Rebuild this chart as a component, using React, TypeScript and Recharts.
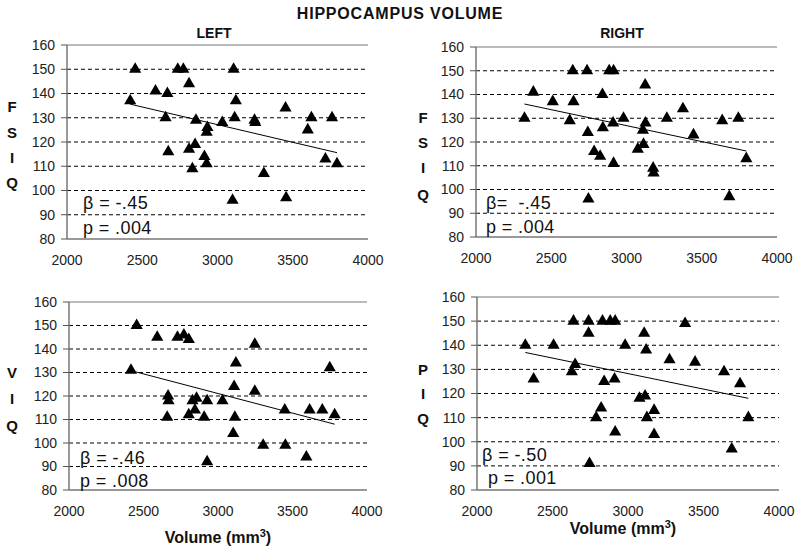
import React from "react";
import {
  ScatterChart,
  Scatter,
  XAxis,
  YAxis,
  ZAxis,
  ReferenceLine,
} from "recharts";

// volumes (mm3) and IQ scores
const leftFsiqVol = [2420, 2453, 2588, 2667, 2655, 2673, 2736, 2773, 2811, 2857, 2811, 2851, 2833, 2913, 2928, 2933, 2928, 3032, 3107, 3122, 3114, 3100, 3246, 3251, 3308, 3452, 3456, 3600, 3624, 3761, 3717, 3794];
const leftFsiq = [137, 150, 141, 140, 130, 116, 150, 150, 144, 129, 117, 119, 109, 114, 111, 126, 124, 128, 150, 137, 130, 96, 129, 128, 107, 134, 97, 125, 130, 130, 113, 111];

const rightFsiqVol = [2322, 2381, 2510, 2623, 2643, 2648, 2738, 2743, 2747, 2785, 2825, 2840, 2843, 2885, 2914, 2911, 2914, 2980, 3075, 3113, 3109, 3126, 3124, 3177, 3180, 3268, 3375, 3445, 3636, 3743, 3683, 3796];
const rightFsiq = [130, 141, 137, 129, 150, 137, 150, 124, 96, 116, 114, 140, 126, 150, 150, 128, 111, 130, 117, 119, 125, 128, 144, 109, 107, 130, 134, 123, 129, 130, 97, 113];

const leftViqVol = [2416, 2454, 2592, 2665, 2668, 2659, 2728, 2771, 2804, 2804, 2845, 2829, 2856, 2907, 2927, 2927, 3030, 3108, 3120, 3113, 3102, 3247, 3247, 3303, 3448, 3452, 3593, 3615, 3700, 3750, 3783];
const leftViq = [131, 150, 145, 120, 118, 111, 145, 146, 144, 112, 114, 118, 119, 111, 118, 92, 118, 124, 134, 111, 104, 142, 122, 99, 114, 99, 94, 114, 114, 132, 112];

const rightPiqVol = [2320, 2375, 2507, 2628, 2639, 2650, 2739, 2739, 2745, 2789, 2822, 2831, 2842, 2882, 2915, 2911, 2915, 2981, 3076, 3113, 3107, 3120, 3125, 3173, 3173, 3275, 3378, 3444, 3636, 3742, 3687, 3797];
const rightPiq = [140, 126, 140, 129, 150, 132, 150, 145, 91, 110, 114, 150, 125, 150, 150, 126, 104, 140, 118, 119, 145, 138, 110, 113, 103, 134, 149, 133, 129, 124, 97, 110];

// regression line end points [vol, iq]
const leftFsiqTrend = [[2420, 135.6], [3794, 115.6]];
const rightFsiqTrend = [[2322, 136], [3796, 116.2]];
const leftViqTrend = [[2416, 130.8], [3783, 108]];
const rightPiqTrend = [[2320, 137], [3797, 118]];

const xTicks = [2000, 2500, 3000, 3500, 4000];
const yTicks = [80, 90, 100, 110, 120, 130, 140, 150, 160];
const gridLines = [90, 100, 110, 120, 130, 140, 150];

const FONT = '"Liberation Sans", Arial, Helvetica, sans-serif';

const Txt = ({ x, y, children, size = 14, bold = false, anchor = "middle", spacing = 0 }: any) => (
  <div
    style={{
      position: "absolute",
      left: x,
      top: y,
      transform: anchor === "middle" ? "translate(-50%, -50%)" : "translate(0, -50%)",
      fontFamily: FONT,
      fontSize: size,
      fontWeight: bold ? "bold" : "normal",
      letterSpacing: spacing,
      lineHeight: 1,
      whiteSpace: "pre",
      color: "#111",
    }}
  >
    {children}
  </div>
);

const Panel = (props: any) => {
  const { vol, iq, trend, left, top, height, margin } = props;
  const data = vol.map((v: number, i: number) => ({ vol: v, iq: iq[i] }));
  return (
    <div style={{ position: "absolute", left, top }}>
      <ScatterChart width={400} height={height} margin={margin}>
        <XAxis
          type="number"
          dataKey="vol"
          domain={[2000, 4000]}
          ticks={xTicks}
          height={30}
          tickLine={false}
          tickSize={6}
          tickMargin={10}
          axisLine={{ stroke: "#777", strokeWidth: 1.5 }}
          tick={{ fill: "#222", fontSize: 14, fontFamily: FONT }}
        />
        <YAxis
          type="number"
          dataKey="iq"
          domain={[80, 160]}
          ticks={yTicks}
          width={40}
          tickSize={6}
          tickMargin={6}
          tickLine={{ stroke: "#555" }}
          axisLine={{ stroke: "#777", strokeWidth: 1.5 }}
          tick={{ fill: "#222", fontSize: 14, fontFamily: FONT }}
        />
        <ZAxis range={[55, 55]} />
        {gridLines.map((g) => (
          <ReferenceLine key={g} y={g} stroke="#000" strokeDasharray="4 3" />
        ))}
        <ReferenceLine y={160} stroke="#777" />
        <ReferenceLine
          segment={[
            { x: trend[0][0], y: trend[0][1] },
            { x: trend[1][0], y: trend[1][1] },
          ]}
          stroke="#000"
          strokeWidth={1}
        />
        <Scatter data={data} fill="#000" shape="triangle" isAnimationActive={false} />
      </ScatterChart>
    </div>
  );
};

export default function App() {
  return (
    <div
      style={{
        position: "absolute",
        left: 0,
        top: 0,
        width: 800,
        height: 552,
        background: "#fff",
        overflow: "hidden",
      }}
    >
      <Panel vol={leftFsiqVol} iq={leftFsiq} trend={leftFsiqTrend} left={0} top={0} height={270}
        margin={{ top: 45, right: 32, bottom: 1, left: 27 }} />
      <Panel vol={rightFsiqVol} iq={rightFsiq} trend={rightFsiqTrend} left={400} top={0} height={270}
        margin={{ top: 47, right: 23, bottom: 3, left: 36 }} />
      <Panel vol={leftViqVol} iq={leftViq} trend={leftViqTrend} left={0} top={270} height={282}
        margin={{ top: 32, right: 33, bottom: 32, left: 29 }} />
      <Panel vol={rightPiqVol} iq={rightPiq} trend={rightPiqTrend} left={400} top={270} height={282}
        margin={{ top: 27, right: 21, bottom: 32, left: 37 }} />

      <Txt x={400} y={14} size={16} bold spacing={0.8}>HIPPOCAMPUS VOLUME</Txt>
      <Txt x={214} y={33} size={14} bold>LEFT</Txt>
      <Txt x={622} y={33} size={14} bold>RIGHT</Txt>

      <Txt x={12} y={106} size={15} bold>F</Txt>
      <Txt x={12} y={132} size={15} bold>S</Txt>
      <Txt x={12} y={157} size={15} bold>I</Txt>
      <Txt x={12} y={182} size={15} bold>Q</Txt>

      <Txt x={423} y={117} size={15} bold>F</Txt>
      <Txt x={423} y={142} size={15} bold>S</Txt>
      <Txt x={423} y={167} size={15} bold>I</Txt>
      <Txt x={423} y={194} size={15} bold>Q</Txt>

      <Txt x={12} y={372} size={15} bold>V</Txt>
      <Txt x={12} y={398} size={15} bold>I</Txt>
      <Txt x={12} y={425} size={15} bold>Q</Txt>

      <Txt x={423} y={369} size={15} bold>P</Txt>
      <Txt x={423} y={393} size={15} bold>I</Txt>
      <Txt x={423} y={418} size={15} bold>Q</Txt>

      <Txt x={83} y={203} size={18} anchor="start" spacing={0.4}>β = -.45</Txt>
      <Txt x={83} y={228} size={18} anchor="start" spacing={0.4}>p = .004</Txt>
      <Txt x={486} y={203} size={18} anchor="start" spacing={0.4}>β=  -.45</Txt>
      <Txt x={486} y={227} size={18} anchor="start" spacing={0.4}>p = .004</Txt>
      <Txt x={80} y={458} size={18} anchor="start" spacing={0.4}>β = -.46</Txt>
      <Txt x={80} y={481} size={18} anchor="start" spacing={0.4}>p = .008</Txt>
      <Txt x={482} y={455} size={18} anchor="start" spacing={0.4}>β = -.50</Txt>
      <Txt x={488} y={478} size={18} anchor="start" spacing={0.4}>p = .001</Txt>

      <Txt x={218} y={537} size={16} bold>
        Volume (mm<sup style={{ fontSize: 11 }}>3</sup>)
      </Txt>
      <Txt x={623} y={528} size={16} bold>
        Volume (mm<sup style={{ fontSize: 11 }}>3</sup>)
      </Txt>
    </div>
  );
}
